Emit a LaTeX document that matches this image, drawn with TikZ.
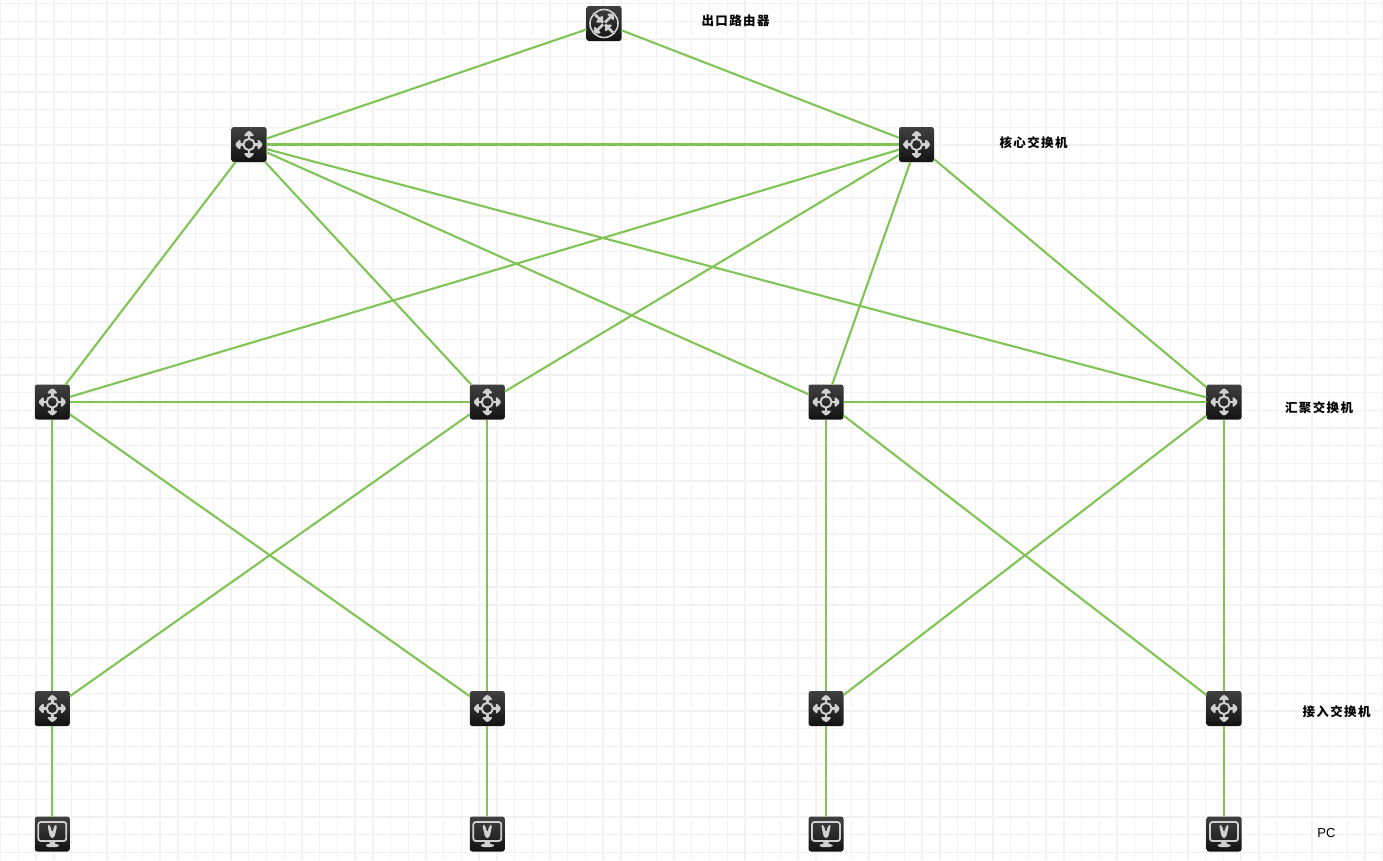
\documentclass[tikz,border=0pt]{standalone}
\usepackage{fontspec}
\setmainfont{Liberation Sans}
\newfontfamily\cjk[LetterSpace=11]{Noto Sans CJK SC}
\definecolor{linkgreen}{HTML}{80C455}
\definecolor{devtop}{HTML}{404040}
\definecolor{devmid}{HTML}{2A2A2A}
\definecolor{devbot}{HTML}{121212}
\definecolor{icon}{HTML}{D0D0D0}
\newcommand\rtarms{%
  \draw[draw=icon,line width=2.6pt] (-1,-1)--(-9,-9) (1,1)--(9,9) (-1,1)--(-8,8) (1,-1)--(8,-8);
  \fill[icon] (2.2,-10)--(10,-10)--(10,-2.2)--cycle;
  \fill[icon] (-2.2,10)--(-10,10)--(-10,2.2)--cycle;
  \fill[icon] (-1,-1)--(-9,-1)--(-1,-9)--cycle;
  \fill[icon] (1,1)--(9,1)--(1,9)--cycle;
}
\tikzset{
  x=1pt,y=-1pt,
  gridline/.style={draw=black!5,line width=1.4pt},
  link/.style={draw=linkgreen,line width=2.1pt},
  dev/.style={minimum width=35pt,minimum height=35pt,inner sep=0pt,outer sep=0pt,rounded corners=2.5pt,
    top color=devtop,bottom color=devbot,middle color=devmid,draw=none},
  swdev/.style={dev,path picture={
    \begin{scope}[shift={(path picture bounding box.center)},x=1pt,y=-1pt]
      \draw[draw=icon,line width=2pt] (0,0) circle (5.6);
      \draw[draw=icon,line width=2.6pt] (6,0)--(10,0) (-6,0)--(-10,0) (0,6)--(0,10) (0,-6)--(0,-10);
      \fill[icon] (8.5,-6)--(14.5,0)--(8.5,6)--cycle;
      \fill[icon] (-8.5,-6)--(-14.5,0)--(-8.5,6)--cycle;
      \fill[icon] (-6,8.5)--(0,14.5)--(6,8.5)--cycle;
      \fill[icon] (-6,-8.5)--(0,-14.5)--(6,-8.5)--cycle;
    \end{scope}}},
  rtdev/.style={dev,path picture={
    \begin{scope}[shift={(path picture bounding box.center)},x=1pt,y=-1pt]
      \draw[draw=icon,line width=1.6pt] (0,0) circle (14);
      \rtarms
    \end{scope}}},
  pcdev/.style={dev,path picture={
    \begin{scope}[shift={(path picture bounding box.center)},x=1pt,y=-1pt]
      \draw[draw=icon,line width=1.8pt] (-14,-12)rectangle(14,7);
      \fill[icon] (-3,7)rectangle(3,11);
      \fill[icon] (-6.5,10)rectangle(6.5,13);
      \fill[icon] (-5,-9)--(-2.2,-9)--(0,-1)--(2.2,-9)--(5,-9)--(2,4)--(-2,4)--cycle;
    \end{scope}}},
  lab/.style={font=\cjk\bfseries\fontsize{12.5}{14}\selectfont,inner sep=0pt,text=black},
  pclab/.style={font=\fontsize{13}{14}\selectfont,inner sep=0pt,text=black}
}
\begin{document}
\begin{tikzpicture}
\useasboundingbox (0,0) rectangle (1383,860);
\fill[white] (0,0) rectangle (1383,860);
\foreach \i in {0,...,78}{\draw[gridline] ({0.7+17.72*\i},0)--({0.7+17.72*\i},860);}
\foreach \i in {0,...,48}{\draw[gridline] (0,{3.7+17.68*\i})--(1383,{3.7+17.68*\i});}
\node[rtdev] (r) at (604,23.5) {};
\node[swdev] (c1) at (249,144.5) {};
\node[swdev] (c2) at (916.5,144.5) {};
\node[swdev] (a1) at (52.3,402) {};
\node[swdev] (a2) at (487.3,402) {};
\node[swdev] (a3) at (826,402) {};
\node[swdev] (a4) at (1224,402) {};
\node[swdev] (e1) at (52.3,708.5) {};
\node[swdev] (e2) at (487.3,708.5) {};
\node[swdev] (e3) at (826,708.5) {};
\node[swdev] (e4) at (1224,708.5) {};
\node[pcdev] (p1) at (52.3,834) {};
\node[pcdev] (p2) at (487.3,834) {};
\node[pcdev] (p3) at (826,834) {};
\node[pcdev] (p4) at (1224,834) {};
\draw[link] (r)--(c1);
\draw[link] (r)--(c2);
\draw[link] (c1)--(c2);
\draw[link] (c1)--(a1);
\draw[link] (c1)--(a2);
\draw[link] (c1)--(a3);
\draw[link] (c1)--(a4);
\draw[link] (c2)--(a1);
\draw[link] (c2)--(a2);
\draw[link] (c2)--(a3);
\draw[link] (c2)--(a4);
\draw[link] (a1)--(a2);
\draw[link] (a3)--(a4);
\draw[link] (a1)--(e1);
\draw[link] (a1)--(e2);
\draw[link] (a2)--(e1);
\draw[link] (a2)--(e2);
\draw[link] (a3)--(e3);
\draw[link] (a3)--(e4);
\draw[link] (a4)--(e3);
\draw[link] (a4)--(e4);
\draw[link] (e1)--(p1);
\draw[link] (e2)--(p2);
\draw[link] (e3)--(p3);
\draw[link] (e4)--(p4);
\node[lab] (t1) at (735.5,21) {出口路由器};
\node[lab] (t2) at (1033.5,142.5) {核心交换机};
\node[lab] (t3) at (1319,407.5) {汇聚交换机};
\node[lab] (t4) at (1336.5,711.5) {接入交换机};
\node[pclab] (t5) at (1326.5,833) {PC};
\end{tikzpicture}
\end{document}
